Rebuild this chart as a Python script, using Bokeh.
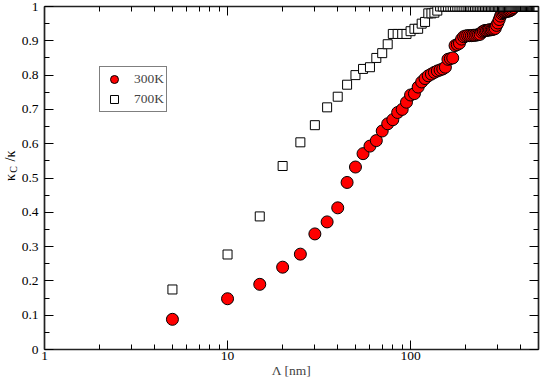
import numpy as np
from bokeh.plotting import figure
from bokeh.layouts import row
from bokeh.models import FixedTicker, LogAxis, LinearAxis, Range1d, Legend
from bokeh.core.properties import value
from bokeh.embed import file_html
from bokeh.resources import INLINE

# ---- data ----
lam_300 = [5, 10, 15, 20, 25, 30, 35, 40, 45, 50, 55, 60, 65, 70, 75, 80, 85, 90, 95, 100,
           105, 110, 115, 120, 125, 130, 135, 140, 145, 150, 155, 160, 165, 170, 175, 180,
           185, 190, 195, 200, 205, 210, 215, 220, 225, 230, 235, 240, 245, 250, 255, 260,
           265, 270, 275, 280, 285, 290, 295, 300, 305, 310, 315, 320, 325, 330, 335, 340,
           345, 350, 355, 360, 365]
kappa_300 = [0.088, 0.148, 0.190, 0.240, 0.278, 0.337, 0.372, 0.413, 0.487, 0.532, 0.571,
             0.593, 0.609, 0.637, 0.658, 0.670, 0.691, 0.700, 0.721, 0.742, 0.746, 0.765,
             0.780, 0.790, 0.798, 0.803, 0.808, 0.812, 0.815, 0.818, 0.823, 0.846, 0.848,
             0.850, 0.886, 0.889, 0.893, 0.905, 0.912, 0.914, 0.915, 0.915, 0.915, 0.916,
             0.916, 0.917, 0.918, 0.919, 0.925, 0.928, 0.930, 0.930, 0.931, 0.932, 0.932,
             0.933, 0.934, 0.936, 0.945, 0.952, 0.962, 0.972, 0.979, 0.982, 0.984, 0.985,
             0.986, 0.986, 0.987, 0.988, 0.990, 0.993, 0.997]

lam_700 = [5, 10, 15, 20, 25, 30, 35, 40, 45, 50, 55, 60, 65, 70, 75, 80, 85, 90, 95, 100,
           105, 110, 115, 120, 125, 130, 135, 140, 145, 150, 155, 160, 165, 170, 175, 180,
           185, 190, 195, 200, 205, 210, 215, 220, 225, 230, 235, 240, 245, 250, 255, 260,
           265, 270, 275, 280, 285, 290, 295, 300, 305, 310, 315, 320, 325, 330, 335, 340,
           345, 350, 355, 360, 365, 370, 375, 380, 385, 390, 395, 400, 405, 410, 415, 420,
           425, 430, 435, 440, 445, 450, 455, 460, 465, 470, 475, 480, 485, 490, 495, 500]
kappa_700 = [0.175, 0.277, 0.388, 0.535, 0.604, 0.654, 0.706, 0.737, 0.772, 0.800, 0.818,
             0.823, 0.850, 0.864, 0.890, 0.920, 0.920, 0.920, 0.920, 0.928, 0.935, 0.935,
             0.950, 0.955, 0.980, 0.980, 0.982, 0.988, 1.0, 1.0, 1.0, 1.0, 1.0, 1.0, 1.0,
             1.0, 1.0, 1.0, 1.0, 1.0, 1.0, 1.0, 1.0, 1.0, 1.0, 1.0, 1.0, 1.0, 1.0, 1.0,
             1.0, 1.0, 1.0, 1.0, 1.0, 1.0, 1.0, 1.0, 1.0, 1.0, 1.0, 1.0, 1.0, 1.0, 1.0,
             1.0, 1.0, 1.0, 1.0, 1.0, 1.0, 1.0, 1.0, 1.0, 1.0, 1.0, 1.0, 1.0, 1.0, 1.0,
             1.0, 1.0, 1.0, 1.0, 1.0, 1.0, 1.0, 1.0, 1.0, 1.0, 1.0, 1.0, 1.0, 1.0, 1.0,
             1.0, 1.0, 1.0, 1.0, 1.0]

series_names = ["300K", "700K"]

x_major = [1, 10, 100]
x_labels = ["1", "10", "100"]
x_minor = [2, 3, 4, 5, 6, 7, 8, 9, 20, 30, 40, 50, 60, 70, 80, 90, 200, 300, 400, 500]
y_major = [0, 0.1, 0.2, 0.3, 0.4, 0.5, 0.6, 0.7, 0.8, 0.9, 1.0]
y_labels = ["0", "0.1", "0.2", "0.3", "0.4", "0.5", "0.6", "0.7", "0.8", "0.9", "1"]
y_minor = [0.05, 0.15, 0.25, 0.35, 0.45, 0.55, 0.65, 0.75, 0.85, 0.95]

x_title = "Λ [nm]"
y_title_parts = ["κ", "C", "/κ"]

FONT = "Liberation Serif"
FS = "13.5px"
LEFT_W = 18
H = 381

# ---------------- main plot ----------------
p = figure(width=545 - LEFT_W, height=H, x_axis_type="log",
           x_range=Range1d(1, 500), y_range=Range1d(0, 1),
           output_backend="svg", toolbar_location=None,
           min_border_left=44 - LEFT_W, min_border_right=7,
           min_border_top=6, min_border_bottom=32)
p.outline_line_color = None
p.xgrid.grid_line_color = None
p.ygrid.grid_line_color = None


def style(ax, labels):
    ax.axis_line_color = "#222222"
    ax.axis_line_width = 1.7
    ax.major_tick_in = 9
    ax.major_tick_out = 0
    ax.minor_tick_in = 5
    ax.minor_tick_out = 0
    ax.major_tick_line_color = "black"
    ax.minor_tick_line_color = "black"
    ax.major_tick_line_width = 1
    ax.minor_tick_line_width = 1
    if labels:
        ax.major_label_text_font = FONT
        ax.major_label_text_font_size = FS
        ax.major_label_text_color = "black"
    else:
        ax.major_label_text_color = None
        ax.major_label_text_font_size = "1px"
        ax.major_label_standoff = 0


xa = p.xaxis[0]
xa.ticker = FixedTicker(ticks=x_major, minor_ticks=x_minor)
xa.major_label_overrides = {v: s for v, s in zip(x_major, x_labels)}
xa.major_label_standoff = 2
xa.axis_label = x_title
xa.axis_label_text_font = FONT
xa.axis_label_text_font_size = FS
xa.axis_label_text_font_style = "normal"
xa.axis_label_standoff = 0
style(xa, True)

ya = p.yaxis[0]
ya.ticker = FixedTicker(ticks=y_major, minor_ticks=y_minor)
ya.major_label_overrides = {v: s for v, s in zip(y_major, y_labels)}
ya.major_label_standoff = 6
style(ya, True)

top = LogAxis(ticker=FixedTicker(ticks=x_major, minor_ticks=x_minor))
style(top, False)
p.add_layout(top, "above")
right = LinearAxis(ticker=FixedTicker(ticks=y_major, minor_ticks=y_minor))
style(right, False)
p.add_layout(right, "right")

r1 = p.scatter(lam_300, kappa_300, marker="circle", size=12,
               fill_color="#ff0000", line_color="black", line_width=1)
r2 = p.scatter(lam_700, kappa_700, marker="square", size=9,
               fill_color="white", line_color="black", line_width=1)

legend = Legend(items=[(series_names[0], [r1]), (series_names[1], [r2])],
                location=(55, 237))
legend.label_text_font = FONT
legend.label_text_font_size = FS
legend.border_line_color = "black"
legend.border_line_width = 1
legend.padding = 2
legend.margin = 0
legend.spacing = -6
legend.glyph_width = 24
legend.glyph_height = 20
legend.label_height = 20
legend.label_standoff = 8
p.add_layout(legend)

# ---------------- y-axis title strip (kappa_C / kappa, rotated) ----------------
q = figure(width=LEFT_W, height=H, x_range=Range1d(0, LEFT_W), y_range=Range1d(H, 0),
           x_axis_location=None, y_axis_location=None, output_backend="svg",
           toolbar_location=None, min_border=0)
q.outline_line_color = None
q.xgrid.grid_line_color = None
q.ygrid.grid_line_color = None
ang = np.pi / 2
q.text(x=[10], y=[190], text=[y_title_parts[0]], angle=ang, text_font=value(FONT),
       text_font_size="14px", text_align="center", text_baseline="middle", text_color="black")
q.text(x=[13], y=[181], text=[y_title_parts[1]], angle=ang, text_font=value(FONT),
       text_font_size="10px", text_align="center", text_baseline="middle", text_color="black")
q.text(x=[10], y=[166], text=[y_title_parts[2]], angle=ang, text_font=value(FONT),
       text_font_size="14px", text_align="center", text_baseline="middle", text_color="black")

layout = row(q, p, spacing=0)
open("out.html", "w").write(file_html(layout, INLINE))
